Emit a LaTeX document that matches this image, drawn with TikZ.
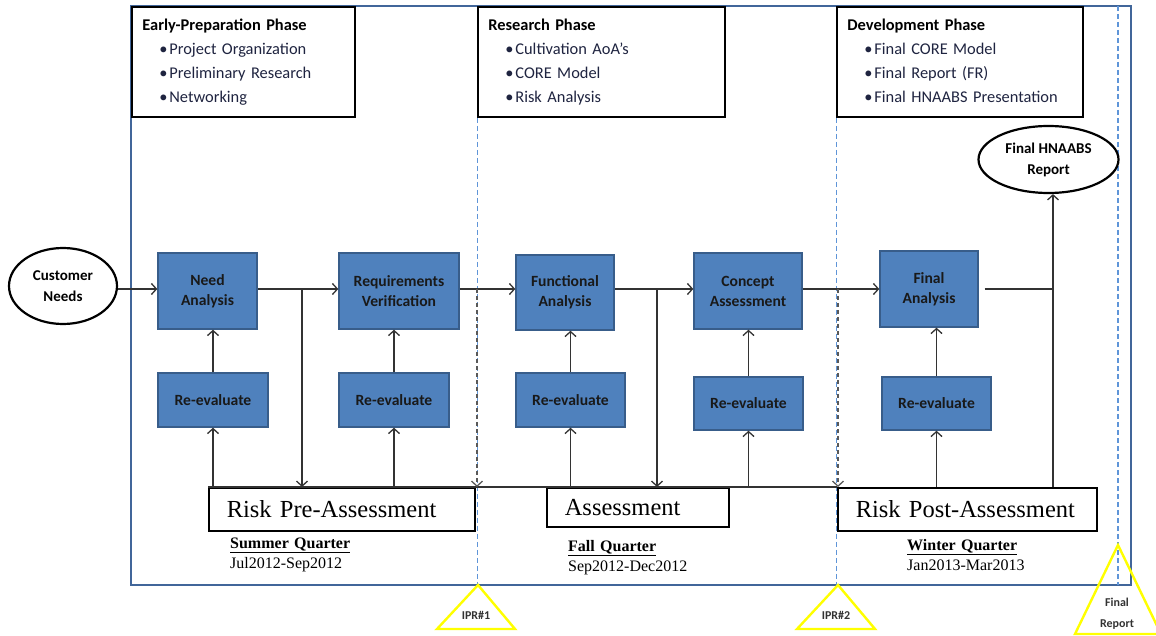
\documentclass[tikz,border=0pt]{standalone}
\usepackage{fontspec}
\setmainfont{Liberation Serif}
\newfontfamily\calfont{Carlito}
\usetikzlibrary{shapes.geometric,arrows.meta}
\definecolor{boxblue}{HTML}{4F81BD}
\definecolor{boxedge}{HTML}{385D8A}
\definecolor{frameblue}{HTML}{41669A}
\definecolor{dashblue}{HTML}{5F95D8}
\definecolor{lncol}{HTML}{333333}
\definecolor{itemcol}{HTML}{1F2440}
\definecolor{msyellow}{HTML}{FFFF00}
\newcommand\bitem[1]{\hspace*{17pt}\makebox[10pt][l]{\textbullet}#1}
\begin{document}
\begin{tikzpicture}[x=1pt,y=-1pt,
  blk/.style={draw=boxedge, fill=boxblue, line width=1.4pt, align=center, inner sep=0pt,
    font=\calfont\bfseries\fontsize{15.6}{20}\selectfont, text=black!90},
  rev/.style={blk, minimum width=109pt, minimum height=54pt},
  phasebox/.style={draw=black, line width=1.6pt, fill=white, minimum height=110pt, inner sep=0pt},
  phasetext/.style={anchor=base west, align=left, inner sep=0pt, text width=230pt,
    font=\calfont\fontsize{16.4}{24}\selectfont},
  riskbox/.style={draw=black, line width=1.6pt, fill=white, align=left, inner xsep=18pt,
    inner ysep=0pt, anchor=north west, font=\fontsize{24.5}{26}\selectfont},
  conn/.style={draw=lncol, line width=1.3pt},
  flow/.style={conn, -{Straight Barb[length=5pt,width=11pt]}},
  darkdash/.style={draw=black!65, dash pattern=on 4pt off 3pt},
  divider/.style={draw=dashblue, line width=1.1pt, dash pattern=on 5pt off 3pt},
  oval/.style={ellipse, draw=black, line width=2.2pt, fill=white, inner sep=0pt, align=center,
    font=\calfont\bfseries\fontsize{15}{21}\selectfont},
  qlabel/.style={anchor=base west, align=left, inner sep=0pt, text width=170pt,
    font=\fontsize{16}{20}\selectfont},
  milestone/.style={draw=msyellow, line width=2.4pt},
  mslabel/.style={inner sep=0pt, align=center, text=lncol,
    font=\calfont\bfseries\fontsize{12}{21}\selectfont}
]
\useasboundingbox (0,0) rectangle (1156,636);
% outer frame
\draw[frameblue, line width=2.5pt] (131,6) rectangle (1131,585);
% phase boxes
\node[phasebox, minimum width=223pt] (p1) at (243.5,62) {};
\node[phasebox, minimum width=247pt] (p2) at (601.5,62) {};
\node[phasebox, minimum width=246pt] (p3) at (960,62) {};
\node[phasetext] (p1t) at ([shift={(11,24)}]p1.north west)
  {\textbf{Early-Preparation Phase}\\\color{itemcol}\bitem{Project Organization}\\\bitem{Preliminary Research}\\\bitem{Networking}};
\node[phasetext] (p2t) at ([shift={(11,24)}]p2.north west)
  {\textbf{Research Phase}\\\color{itemcol}\bitem{Cultivation AoA’s}\\\bitem{CORE Model}\\\bitem{Risk Analysis}};
\node[phasetext] (p3t) at ([shift={(11,24)}]p3.north west)
  {\textbf{Development Phase}\\\color{itemcol}\bitem{Final CORE Model}\\\bitem{Final Report (FR)}\\\bitem{Final HNAABS Presentation}};
% phase dividers
\coordinate (fb) at (0,585);
\draw[divider] (p2.south west) -- (p2.south west |- fb);
\draw[divider] (p3.south west) -- (p3.south west |- fb);
\coordinate (d3) at (1118,6);
\draw[divider] (d3) -- (d3 |- fb);
% main blocks
\node[blk, minimum width=99pt, minimum height=76pt] (na) at (207.5,291) {Need\\Analysis};
\node[blk, minimum width=120pt, minimum height=76pt] (rv) at (399,291) {Requirements\\Verification};
\node[blk, minimum width=98pt, minimum height=75pt] (fa) at (565,292.5) {Functional\\Analysis};
\node[blk, minimum width=108pt, minimum height=76pt] (ca) at (748,291) {Concept\\Assessment};
\node[blk, minimum width=98pt, minimum height=76pt] (fn) at (929,289) {Final\\Analysis};
% re-evaluate blocks
\node[rev, minimum width=110pt] (re1) at (213,400) {Re-evaluate};
\node[rev, minimum width=110pt] (re2) at (394,400) {Re-evaluate};
\node[rev] (re3) at (570.5,400) {Re-evaluate};
\node[rev, minimum height=53pt] (re4) at (748.5,403.5) {Re-evaluate};
\node[rev, minimum height=53pt] (re5) at (936.5,403.5) {Re-evaluate};
% ovals
\node[oval, minimum width=108pt, minimum height=76pt] (cn) at (63,286) {Customer\\Needs};
\node[oval, minimum width=140pt, minimum height=67pt] (fr) at (1048.5,159.5) {Final HNAABS\\Report};
% risk boxes
\node[riskbox, text width=230pt, minimum height=43pt] (r1) at (208,487) {Risk Pre-Assessment};
\node[riskbox, text width=146pt, minimum height=39pt] (r2) at (546,487) {Assessment};
\node[riskbox, text width=223pt, minimum height=43pt] (r3) at (837,487) {Risk Post-Assessment};
% risk line
\draw[conn] (r1.north west) -- (r3.north west);
% main flow
\coordinate (yl) at (0,289);
\draw[flow] (cn.east |- yl) -- (na.west |- yl);
\draw[flow] (na.east |- yl) -- (rv.west |- yl);
\draw[flow] (rv.east |- yl) -- (fa.west |- yl);
\draw[flow] (fa.east |- yl) -- (ca.west |- yl);
\draw[flow] (ca.east |- yl) -- (fn.west |- yl);
\coordinate (j5) at (1053,289);
\draw[conn] ([xshift=6pt]fn.east |- yl) -- (j5);
\coordinate (v5) at (1053,487);
\draw[flow] (v5) -- (v5 |- fr.south);
% branches down to risk line
\coordinate (b1) at (302,289);
\draw[flow] (b1) -- (b1 |- r1.north);
\coordinate (b2) at (657,289);
\draw[flow] (b2) -- (b2 |- r2.north);
\coordinate (dd1) at (477,289);
\draw[flow, darkdash] (dd1) -- (dd1 |- r1.north);
\coordinate (dd2) at (838,289);
\draw[flow, darkdash] (dd2) -- (dd2 |- r3.north);
% up arrows
\draw[flow] (re1.south |- r1.north) -- (re1.south);
\draw[flow] (re1.north) -- (re1.north |- na.south);
\draw[flow] (re2.south |- r1.north) -- (re2.south);
\draw[flow] (re2.north) -- (re2.north |- rv.south);
\draw[flow] (re3.south |- r2.north) -- (re3.south);
\draw[flow] (re3.north) -- (re3.north |- fa.south);
\draw[flow] (re4.south |- r2.north) -- (re4.south);
\draw[flow] (re4.north) -- (re4.north |- ca.south);
\draw[flow] (re5.south |- r3.north) -- (re5.south);
\draw[flow] (re5.north) -- (re5.north |- fn.south);
% quarter labels
\node[qlabel] (q1) at (230,548) {\underline{\textbf{Summer Quarter}}\\Jul2012-Sep2012};
\node[qlabel] (q2) at (568,551) {\underline{\textbf{Fall Quarter}}\\Sep2012-Dec2012};
\node[qlabel] (q3) at (907,550) {\underline{\textbf{Winter Quarter}}\\Jan2013-Mar2013};
% milestones
\draw[milestone] (478,585) -- (437,629) -- (515,629) -- cycle;
\node[mslabel] (m1) at (476,615) {IPR\#1};
\draw[milestone] (838,585) -- (797,629) -- (875,629) -- cycle;
\node[mslabel] (m2) at (836,615) {IPR\#2};
\draw[milestone] (1118,545) -- (1075,634) -- (1161,634) -- cycle;
\node[mslabel] (m3) at (1117,614) {Final\\Report};
\end{tikzpicture}
\end{document}
